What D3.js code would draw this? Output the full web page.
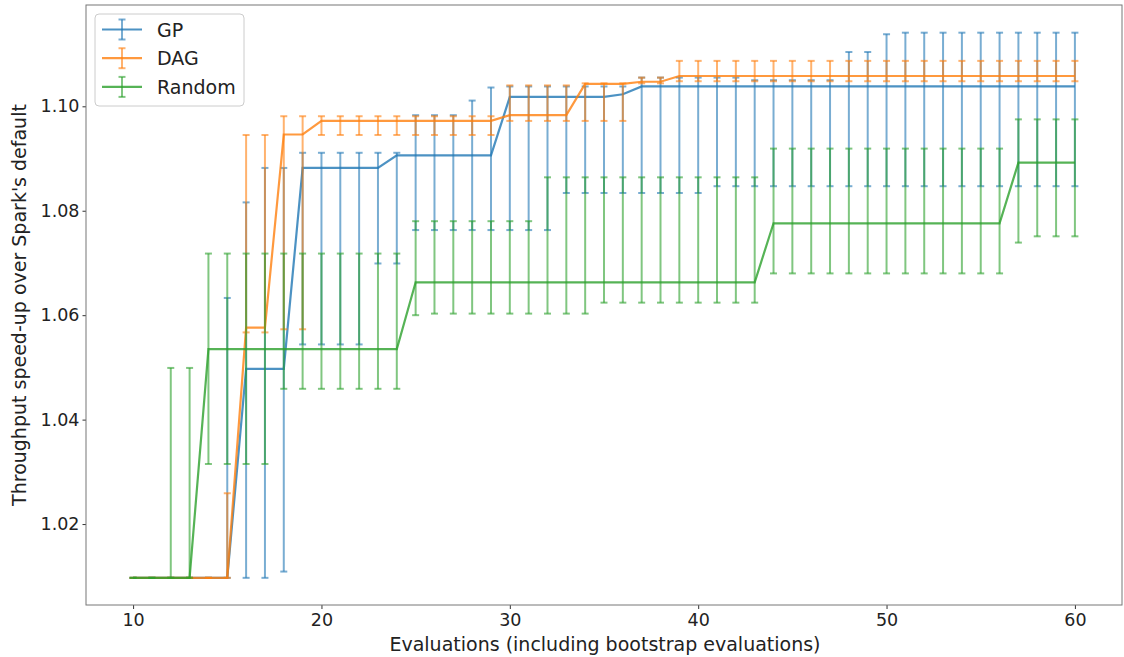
<!DOCTYPE html>
<html>
<head>
<meta charset="utf-8">
<script src="https://cdn.jsdelivr.net/npm/d3@7"></script>
<style>
  body { margin: 0; background: #fff; }
  text { font-family: "DejaVu Sans", sans-serif; fill: #222; }
</style>
</head>
<body>
<div id="chart"></div>
<script>
const evaluations = [10,11,12,13,14,15,16,17,18,19,20,21,22,23,24,25,26,27,28,29,30,31,32,33,34,35,36,37,38,39,40,41,42,43,44,45,46,47,48,49,50,51,52,53,54,55,56,57,58,59,60];

const gpMean = [1.0097,1.0097,1.0097,1.0097,1.0097,1.0097,1.0497,1.0497,1.0497,1.0882,1.0882,1.0882,1.0882,1.0882,1.0906,1.0906,1.0906,1.0906,1.0906,1.0906,1.1018,1.1018,1.1018,1.1018,1.1018,1.1018,1.1023,1.1038,1.1038,1.1038,1.1038,1.1038,1.1038,1.1038,1.1038,1.1038,1.1038,1.1038,1.1038,1.1038,1.1038,1.1038,1.1038,1.1038,1.1038,1.1038,1.1038,1.1038,1.1038,1.1038,1.1038];
const gpLow = [1.0097,1.0097,1.0097,1.0097,1.0097,1.0097,1.0097,1.0097,1.0109,1.0544,1.0544,1.0544,1.0544,1.0699,1.0699,1.0763,1.0763,1.0763,1.0763,1.0763,1.0763,1.0763,1.0763,1.0834,1.0834,1.0834,1.0834,1.0834,1.0834,1.0834,1.0834,1.0847,1.0847,1.0847,1.0847,1.0847,1.0847,1.0847,1.0847,1.0847,1.0847,1.0847,1.0847,1.0847,1.0847,1.0847,1.0847,1.0847,1.0847,1.0847,1.0847];
const gpHigh = [1.0097,1.0097,1.0097,1.0097,1.0097,1.0633,1.0816,1.0882,1.0882,1.0911,1.0911,1.0911,1.0911,1.0911,1.0911,1.0983,1.0983,1.0983,1.1011,1.1036,1.1038,1.1038,1.1038,1.1038,1.1038,1.1038,1.1038,1.1055,1.1055,1.1055,1.1055,1.1055,1.1055,1.1050,1.1050,1.1050,1.1050,1.1050,1.1104,1.1104,1.1138,1.1141,1.1141,1.1141,1.1141,1.1141,1.1141,1.1141,1.1141,1.1141,1.1141];

const dagMean = [1.0097,1.0097,1.0097,1.0097,1.0097,1.0097,1.0576,1.0576,1.0946,1.0946,1.0972,1.0972,1.0972,1.0972,1.0972,1.0972,1.0972,1.0972,1.0972,1.0972,1.0983,1.0983,1.0983,1.0983,1.1043,1.1043,1.1043,1.1047,1.1047,1.1058,1.1058,1.1058,1.1058,1.1058,1.1058,1.1058,1.1058,1.1058,1.1058,1.1058,1.1058,1.1058,1.1058,1.1058,1.1058,1.1058,1.1058,1.1058,1.1058,1.1058,1.1058];
const dagLow = [1.0097,1.0097,1.0097,1.0097,1.0097,1.0097,1.0567,1.0567,1.0573,1.0573,1.0945,1.0945,1.0945,1.0945,1.0945,1.0945,1.0945,1.0945,1.0945,1.0945,1.0972,1.0972,1.0972,1.0972,1.0972,1.0972,1.0972,1.1044,1.1044,1.1048,1.1048,1.1048,1.1048,1.1048,1.1048,1.1048,1.1048,1.1048,1.1048,1.1048,1.1048,1.1048,1.1048,1.1048,1.1048,1.1048,1.1048,1.1048,1.1048,1.1048,1.1048];
const dagHigh = [1.0097,1.0097,1.0097,1.0097,1.0097,1.0259,1.0945,1.0945,1.0981,1.0981,1.0981,1.0981,1.0981,1.0981,1.0981,1.0981,1.0981,1.0981,1.0981,1.0981,1.1040,1.1040,1.1040,1.1040,1.1044,1.1044,1.1044,1.1055,1.1055,1.1087,1.1087,1.1087,1.1087,1.1087,1.1087,1.1087,1.1087,1.1087,1.1087,1.1087,1.1087,1.1087,1.1087,1.1087,1.1087,1.1087,1.1087,1.1087,1.1087,1.1087,1.1087];

const randMean = [1.0097,1.0097,1.0097,1.0097,1.0535,1.0535,1.0535,1.0535,1.0535,1.0535,1.0535,1.0535,1.0535,1.0535,1.0535,1.0663,1.0663,1.0663,1.0663,1.0663,1.0663,1.0663,1.0663,1.0663,1.0663,1.0663,1.0663,1.0663,1.0663,1.0663,1.0663,1.0663,1.0663,1.0663,1.0776,1.0776,1.0776,1.0776,1.0776,1.0776,1.0776,1.0776,1.0776,1.0776,1.0776,1.0776,1.0776,1.0892,1.0892,1.0892,1.0892];
const randLow = [1.0097,1.0097,1.0097,1.0097,1.0315,1.0315,1.0315,1.0315,1.0459,1.0459,1.0459,1.0459,1.0459,1.0459,1.0459,1.0600,1.0603,1.0603,1.0603,1.0603,1.0603,1.0603,1.0603,1.0603,1.0603,1.0624,1.0624,1.0624,1.0624,1.0624,1.0624,1.0624,1.0624,1.0624,1.0680,1.0680,1.0680,1.0680,1.0680,1.0680,1.0680,1.0680,1.0680,1.0680,1.0680,1.0680,1.0680,1.0739,1.0751,1.0751,1.0751];
const randHigh = [1.0097,1.0097,1.0499,1.0499,1.0718,1.0718,1.0718,1.0718,1.0718,1.0718,1.0718,1.0718,1.0718,1.0718,1.0718,1.0780,1.0780,1.0780,1.0780,1.0780,1.0780,1.0780,1.0864,1.0864,1.0864,1.0864,1.0864,1.0864,1.0864,1.0864,1.0864,1.0864,1.0864,1.0864,1.0919,1.0919,1.0919,1.0919,1.0919,1.0919,1.0919,1.0919,1.0919,1.0919,1.0919,1.0919,1.0919,1.0975,1.0975,1.0975,1.0975];

const xTicks = [10, 20, 30, 40, 50, 60];
const yTicks = [1.02, 1.04, 1.06, 1.08, 1.10];

const seriesNames = ["GP", "DAG", "Random"];
const seriesColors = ["#1f77b4", "#ff7f0e", "#2ca02c"];

const series = [
  {name: seriesNames[0], color: seriesColors[0], mean: gpMean, low: gpLow, high: gpHigh},
  {name: seriesNames[1], color: seriesColors[1], mean: dagMean, low: dagLow, high: dagHigh},
  {name: seriesNames[2], color: seriesColors[2], mean: randMean, low: randLow, high: randHigh}
];

const W = 1124, H = 657;
const plot = {left: 86, right: 1122, top: 5, bottom: 605};

const svg = d3.select("#chart").append("svg")
  .attr("width", W)
  .attr("height", H);

svg.append("rect").attr("width", W).attr("height", H).attr("fill", "#fff");

const x = d3.scaleLinear().domain([7.5, 62.5]).range([plot.left, plot.right]);
const y = d3.scaleLinear().domain([1.0045, 1.1194]).range([plot.bottom, plot.top]);

// axes
const xAxis = svg.append("g")
  .attr("transform", `translate(0,${plot.bottom})`)
  .call(d3.axisBottom(x).tickValues(xTicks).tickFormat(d3.format("d")).tickSizeOuter(0).tickSize(4).tickPadding(5));
const yAxis = svg.append("g")
  .attr("transform", `translate(${plot.left},0)`)
  .call(d3.axisLeft(y).tickValues(yTicks).tickFormat(d3.format(".2f")).tickSizeOuter(0).tickSize(3.5).tickPadding(3));

[xAxis, yAxis].forEach(g => {
  g.select(".domain").remove();
  g.selectAll(".tick line").attr("stroke", "#333").attr("stroke-width", 1);
  g.selectAll(".tick text").attr("font-size", "17.5px").attr("fill", "#222")
    .attr("font-family", "DejaVu Sans, sans-serif");
});

// frame
svg.append("rect")
  .attr("x", plot.left).attr("y", plot.top)
  .attr("width", plot.right - plot.left).attr("height", plot.bottom - plot.top)
  .attr("fill", "none").attr("stroke", "#777").attr("stroke-width", 1);

const capW = 3.5;
const line = d3.line().x((d, i) => x(evaluations[i])).y(d => y(d));

series.forEach(s => {
  const g = svg.append("g");
  const pts = evaluations.map((e, i) => ({e, lo: s.low[i], hi: s.high[i]}));
  g.selectAll("line.bar").data(pts).enter().append("line")
    .attr("x1", d => x(d.e)).attr("x2", d => x(d.e))
    .attr("y1", d => y(d.lo)).attr("y2", d => y(d.hi))
    .attr("stroke", s.color).attr("stroke-width", 2).attr("stroke-opacity", 0.6);
  ["lo", "hi"].forEach(k => {
    g.selectAll("line.cap" + k).data(pts).enter().append("line")
      .attr("x1", d => x(d.e) - capW).attr("x2", d => x(d.e) + capW)
      .attr("y1", d => y(d[k])).attr("y2", d => y(d[k]))
      .attr("stroke", s.color).attr("stroke-width", 2).attr("stroke-opacity", 0.6);
  });
  g.append("path")
    .datum(s.mean)
    .attr("d", line)
    .attr("fill", "none")
    .attr("stroke", s.color)
    .attr("stroke-width", 2.2)
    .attr("stroke-opacity", 0.8);
});

// axis labels
svg.append("text")
  .attr("x", (plot.left + plot.right) / 2 + 1)
  .attr("y", 651)
  .attr("text-anchor", "middle")
  .attr("font-size", "19px")
  .text("Evaluations (including bootstrap evaluations)");

svg.append("text")
  .attr("transform", `translate(26,${(plot.top + plot.bottom) / 2}) rotate(-90)`)
  .attr("text-anchor", "middle")
  .attr("font-size", "19px")
  .text("Throughput speed-up over Spark's default");

// legend
const legend = svg.append("g");
legend.append("rect")
  .attr("x", 95).attr("y", 14).attr("width", 149).attr("height", 92)
  .attr("rx", 4)
  .attr("fill", "#fff").attr("fill-opacity", 0.8)
  .attr("stroke", "#ccc").attr("stroke-width", 1);

series.forEach((s, i) => {
  const ly = 29.5 + i * 28.7;
  const item = legend.append("g");
  item.append("line").attr("x1", 102).attr("x2", 142).attr("y1", ly).attr("y2", ly)
    .attr("stroke", s.color).attr("stroke-width", 2.2).attr("stroke-opacity", 0.8);
  item.append("line").attr("x1", 122).attr("x2", 122).attr("y1", ly - 10).attr("y2", ly + 10)
    .attr("stroke", s.color).attr("stroke-width", 2).attr("stroke-opacity", 0.6);
  [ly - 10, ly + 10].forEach(cy => {
    item.append("line").attr("x1", 122 - capW).attr("x2", 122 + capW).attr("y1", cy).attr("y2", cy)
      .attr("stroke", s.color).attr("stroke-width", 2).attr("stroke-opacity", 0.6);
  });
  item.append("text")
    .attr("x", 157).attr("y", ly)
    .attr("dominant-baseline", "central")
    .attr("font-size", "19px")
    .text(s.name);
});
</script>
</body>
</html>
